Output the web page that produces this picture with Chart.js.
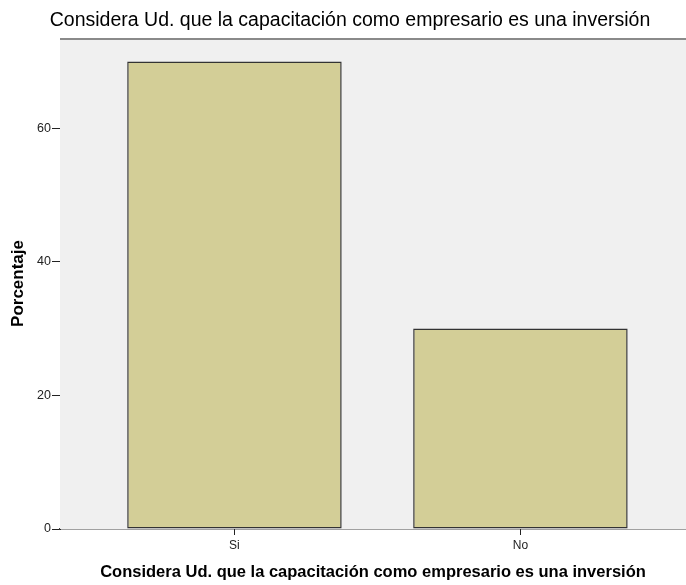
<!DOCTYPE html>
<html>
<head>
<meta charset="utf-8">
<script src="https://cdn.jsdelivr.net/npm/chart.js@4.4.1/dist/chart.umd.min.js"></script>
<style>
  html, body { margin: 0; padding: 0; background: #ffffff; overflow: hidden; }
  canvas { display: block; }
</style>
</head>
<body>
<canvas id="c" width="686" height="585"></canvas>
<script>
const chartTitle = "Considera Ud. que la capacitación como empresario es una inversión";
const xAxisTitle = "Considera Ud. que la capacitación como empresario es una inversión";
const yAxisTitle = "Porcentaje";
const categories = ["Si", "No"];
const percentages = [70, 30];
const yTickValues = [0, 20, 40, 60];

const FONT = "'Liberation Sans', Arial, sans-serif";

const plotBg = {
  id: 'plotBg',
  beforeDatasetsDraw(chart) {
    const { ctx, chartArea: a } = chart;
    ctx.save();
    ctx.fillStyle = '#f0f0f0';
    ctx.fillRect(a.left, a.top, a.right - a.left, a.bottom - a.top);
    ctx.strokeStyle = '#8a8a8a';
    ctx.lineWidth = 2;
    ctx.beginPath();
    ctx.moveTo(a.left, a.top + 1);
    ctx.lineTo(a.right, a.top + 1);
    ctx.stroke();
    ctx.restore();
  },
  afterDraw(chart) {
    const { ctx, chartArea: a } = chart;
    const xs = chart.scales.x;
    ctx.save();
    // category tick marks below the x axis
    ctx.strokeStyle = '#222';
    ctx.lineWidth = 1;
    ctx.beginPath();
    categories.forEach((c, i) => {
      const px = Math.round(xs.getPixelForValue(i + 1)) + 0.5;
      ctx.moveTo(px, a.bottom);
      ctx.lineTo(px, a.bottom + 6);
    });
    ctx.stroke();
    // chart title
    ctx.fillStyle = '#000';
    ctx.font = "normal 19.5px " + FONT;
    ctx.textAlign = 'center';
    ctx.textBaseline = 'middle';
    ctx.fillText(chartTitle, 350, 21);
    ctx.restore();
  }
};

new Chart(document.getElementById('c'), {
  type: 'bar',
  data: {
    datasets: [{
      data: categories.map((c, i) => ({ x: i + 1, y: percentages[i] })),
      backgroundColor: '#d3ce97',
      borderColor: '#333333',
      borderWidth: 1.5,
      borderSkipped: false,
      barPercentage: 0.75,
      categoryPercentage: 1.0
    }]
  },
  options: {
    responsive: false,
    animation: false,
    layout: { padding: { top: 38, left: 0, right: 0, bottom: 0 } },
    plugins: {
      legend: { display: false },
      tooltip: { enabled: false },
      title: { display: false }
    },
    scales: {
      x: {
        type: 'linear',
        min: 0.39,
        max: 2.579,
        offset: false,
        afterBuildTicks(scale) {
          scale.ticks = categories.map((c, i) => ({ value: i + 1 }));
        },
        afterFit(scale) { scale.height = 56; },
        ticks: {
          callback: (v) => categories[v - 1],
          color: '#222',
          font: { family: FONT, size: 12 },
          padding: 9,
          maxRotation: 0
        },
        grid: { offset: false, drawOnChartArea: false, drawTicks: false, color: '#222' },
        border: { display: true, color: '#444', width: 1.5 },
        title: {
          display: true,
          text: xAxisTitle,
          color: '#000',
          font: { family: FONT, size: 16.5, weight: 'bold' },
          padding: { top: 0, bottom: 3 }
        }
      },
      y: {
        min: 0,
        max: 73.5,
        afterBuildTicks(scale) {
          scale.ticks = yTickValues.map(v => ({ value: v }));
        },
        afterFit(scale) { scale.width = 60; },
        ticks: {
          color: '#222',
          font: { family: FONT, size: 12.5 },
          padding: 1
        },
        grid: { drawOnChartArea: false, drawTicks: true, tickLength: 8, color: '#222' },
        border: { display: true, color: '#222', width: 1 },
        title: {
          display: true,
          text: yAxisTitle,
          color: '#000',
          font: { family: FONT, size: 17, weight: 'bold' },
          padding: { top: 8.3, bottom: 0 }
        }
      }
    }
  },
  plugins: [plotBg]
});
</script>
</body>
</html>
